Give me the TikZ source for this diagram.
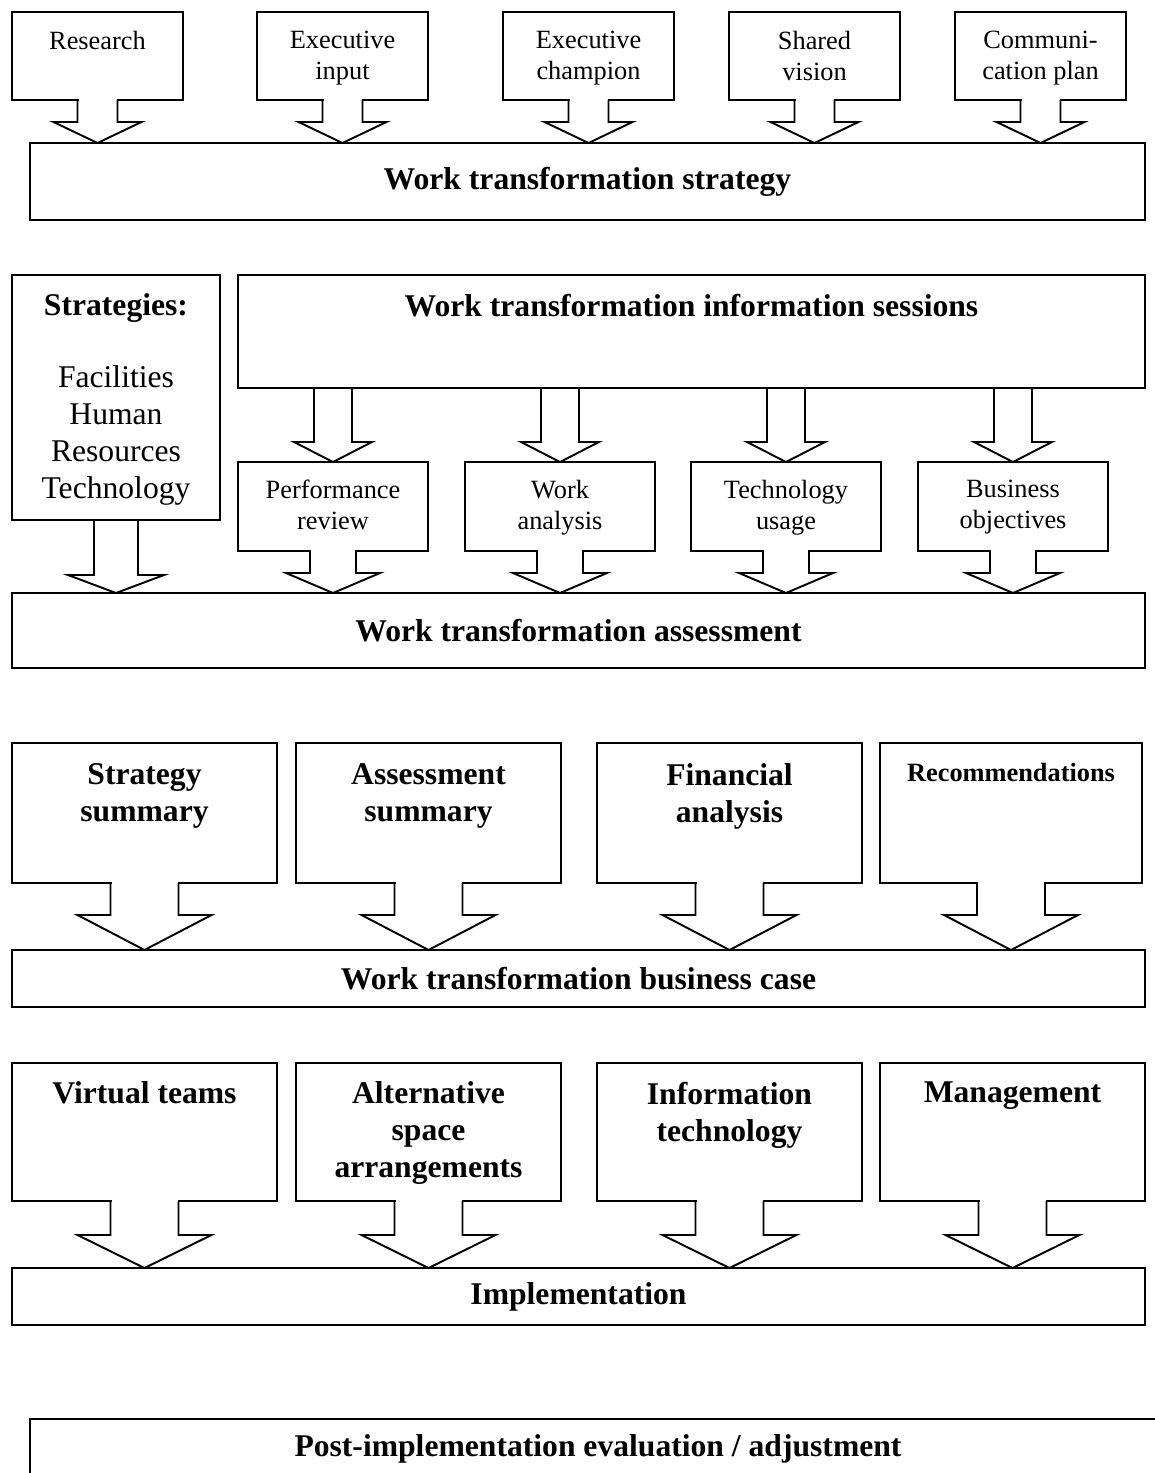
\documentclass[tikz,border=0pt]{standalone}
\usepackage{fontspec}
\setmainfont{Liberation Serif}
\usetikzlibrary{calc,positioning}

\newlength{\px}
\setlength{\px}{0.02cm}

% block arrow: [1 = cut the box edge], from, to, x of, half stem, half head, head height
\newcommand{\blockarrow}[7][1]{%
  \ifnum#1=1 \fill[white] ($(#4.south |- #2.south)+(-#5+1,-2)$) rectangle ($(#4.south |- #2.south)+(#5-1,2)$);\fi
  \draw ($(#4.south |- #2.south)+(-#5,0)$) -- ($(#4.south |- #3.north)+(-#5,-#7)$) -- ++(#5-#6,0)
        -- (#4.south |- #3.north) -- ++(#6,-#7) -- ++(#5-#6,0) -- ($(#4.south |- #2.south)+(#5,0)$);
}

\begin{document}
\begin{tikzpicture}[x=0.02cm, y=-0.02cm, line width=1.1pt]
    \tikzstyle{box}=[draw, inner sep=0pt, outer sep=0pt, anchor=north west]
    \tikzstyle{smalltxt}=[font=\fontsize{15}{17.6}\selectfont, align=center, inner sep=0pt]
    \tikzstyle{bigtxt}=[font=\bfseries\fontsize{18}{21}\selectfont, align=center, inner sep=0pt]

    \useasboundingbox (0,0) rectangle (1155,1473);
    \clip (0,0) rectangle (1155,1473);

    % strategy
    \foreach \n/\x/\t in {research/12/Research, execin/257/{Executive\\input},
                          execch/503/{Executive\\champion}, vision/729/{Shared\\vision},
                          commplan/955/{Communi-\\cation plan}} {
        \node[box, minimum width=171\px, minimum height=88\px] (\n) at (\x,12) {};
        \node[smalltxt, below=18\px of \n.north] (\n-t) {\t};
    }
    \node[box, bigtxt, minimum width=1115\px, minimum height=77\px] (strat) at (30,143)
        {Work transformation strategy};

    % assessment
    \node[box, minimum width=208\px, minimum height=245\px] (strategies) at (12,275) {};
    \node[smalltxt, font=\fontsize{18}{21}\selectfont, below=18\px of strategies.north] (strategies-t)
        {\textbf{Strategies:}\\[20pt]Facilities\\Human\\Resources\\Technology};
    \node[box, minimum width=907\px, minimum height=113\px] (info) at (238,275) {};
    \node[bigtxt, below=18\px of info.north] (info-t) {Work transformation information sessions};
    \foreach \n/\x/\t in {perf/238/{Performance\\review}, workan/465/{Work\\analysis},
                          techuse/691/{Technology\\usage}, busobj/918/{Business\\objectives}} {
        \node[box, minimum width=190\px, minimum height=89\px] (\n) at (\x,462) {};
        \node[smalltxt, below=17\px of \n.north] (\n-t) {\t};
    }
    \node[box, bigtxt, minimum width=1133\px, minimum height=75\px] (assess) at (12,593)
        {Work transformation assessment};

    % business case
    \foreach \n/\x/\t in {sumstrat/12/{Strategy\\summary}, sumassess/296/{Assessment\\summary},
                          finance/597/{Financial\\analysis}} {
        \node[box, minimum width=265\px, minimum height=140\px] (\n) at (\x,743) {};
        \node[bigtxt, below=20\px of \n.north] (\n-t) {\t};
    }
    \node[box, minimum width=262\px, minimum height=140\px] (recommend) at (880,743) {};
    \node[smalltxt, font=\bfseries\fontsize{15}{17.6}\selectfont, below=19\px of recommend.north] (recommend-t)
        {Recommendations};
    \node[box, bigtxt, minimum width=1133\px, minimum height=57\px] (bcase) at (12,950)
        {Work transformation business case};

    % implementation
    \foreach \n/\x/\t in {vteams/12/{Virtual teams}, altspace/296/{Alternative\\space\\arrangements},
                          infotech/597/{Information\\technology}, mgmt/880/Management} {
        \node[box, minimum width=265\px, minimum height=138\px] (\n) at (\x,1063) {};
        \node[bigtxt, below=18\px of \n.north] (\n-t) {\t};
    }
    \node[box, bigtxt, minimum width=1133\px, minimum height=57\px] (impl) at (12,1268)
        {Implementation};

    \node[box, bigtxt, minimum width=1136\px, minimum height=60\px] (post) at (30,1419)
        {Post-implementation evaluation / adjustment};

    % block arrows
    \foreach \n in {research,execin,execch,vision,commplan}
        {\blockarrow{\n}{strat}{\n}{20}{44}{21}}
    \blockarrow[0]{strategies}{assess}{strategies}{22}{48}{18}
    \foreach \n in {perf,workan,techuse,busobj} {
        \blockarrow[0]{info}{\n}{\n}{19}{39}{20}
        \blockarrow{\n}{assess}{\n}{23}{47}{20}
    }
    \foreach \n in {sumstrat,sumassess,finance,recommend}
        {\blockarrow{\n}{bcase}{\n}{34}{67}{35}}
    \foreach \n in {vteams,altspace,infotech,mgmt}
        {\blockarrow{\n}{impl}{\n}{34}{67}{33}}
\end{tikzpicture}
\end{document}
